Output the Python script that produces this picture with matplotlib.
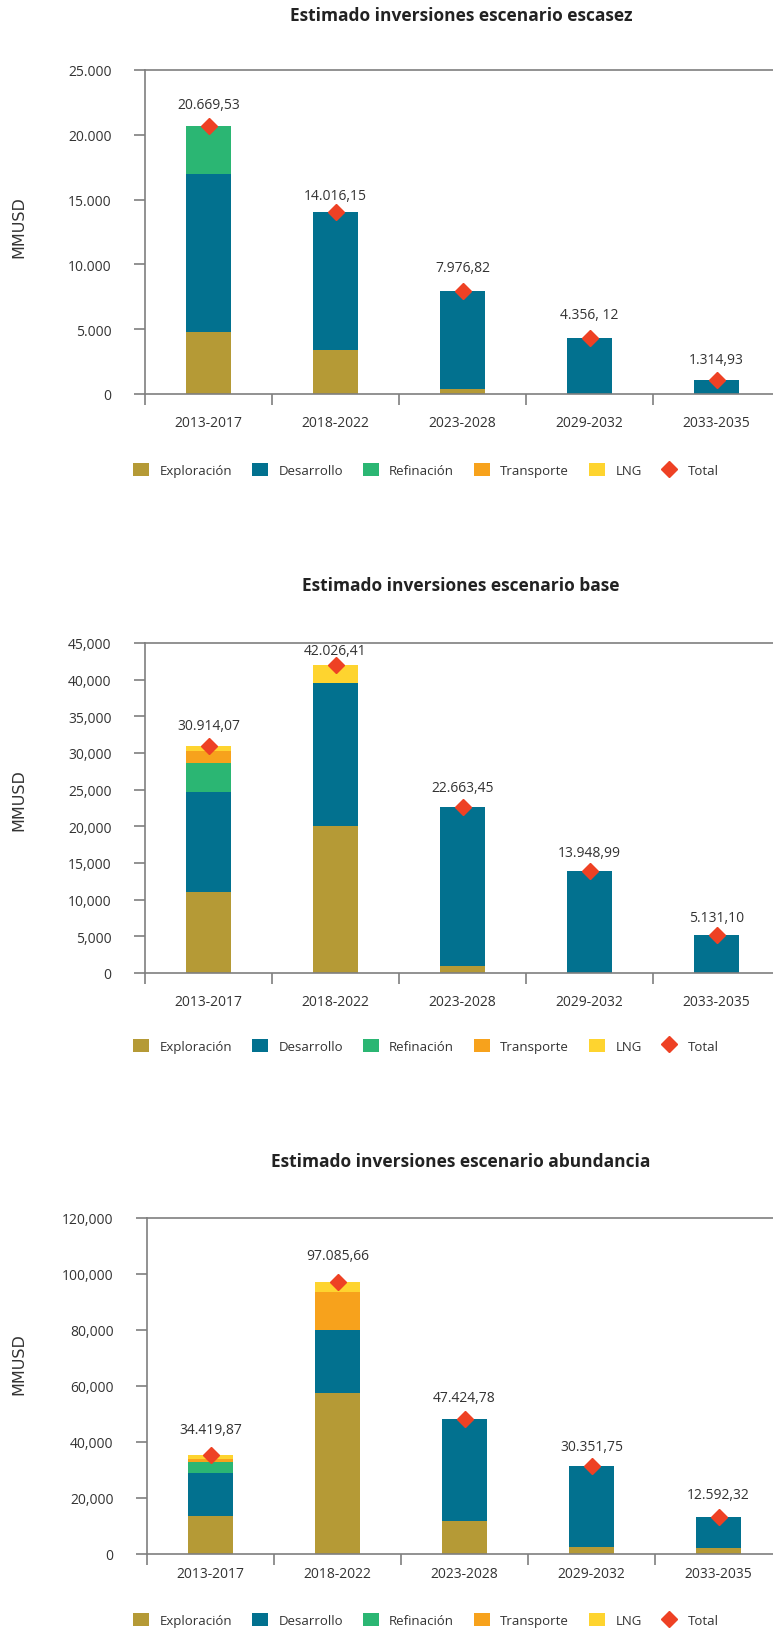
import numpy as np
import matplotlib
matplotlib.use('Agg')
import matplotlib.pyplot as plt
from matplotlib.patches import Patch
from matplotlib.lines import Line2D
from matplotlib.ticker import FuncFormatter, MultipleLocator

plt.rcParams['font.family'] = ['Open Sans', 'DejaVu Sans']

# periodos
categories = ['2013-2017', '2018-2022', '2023-2028', '2029-2032', '2033-2035']

# escenario escasez
escasez_exploracion = [4800, 3400, 400, 0, 0]
escasez_desarrollo = [12175, 10616, 7576, 4356, 1100]
escasez_refinacion = [3695, 0, 0, 0, 0]
escasez_transporte = [0, 0, 0, 0, 0]
escasez_lng = [0, 0, 0, 0, 0]
escasez_labels = ['20.669,53', '14.016,15', '7.976,82', '4.356, 12', '1.314,93']

# escenario base
base_exploracion = [11000, 20000, 1000, 0, 0]
base_desarrollo = [13700, 19600, 21663, 13949, 5131]
base_refinacion = [4000, 0, 0, 0, 0]
base_transporte = [1600, 0, 0, 0, 0]
base_lng = [614, 2426, 0, 0, 0]
base_labels = ['30.914,07', '42.026,41', '22.663,45', '13.948,99', '5.131,10']

# escenario abundancia
abund_exploracion = [13600, 57600, 11800, 2500, 2100]
abund_desarrollo = [15400, 22500, 36400, 28900, 11100]
abund_refinacion = [3900, 0, 0, 0, 0]
abund_transporte = [1100, 13600, 0, 0, 0]
abund_lng = [1500, 3400, 0, 0, 0]
abund_labels = ['34.419,87', '97.085,66', '47.424,78', '30.351,75', '12.592,32']

series_names = ['Exploración', 'Desarrollo', 'Refinación', 'Transporte', 'LNG']
colors = ['#B59A36', '#02718F', '#2BB673', '#F7A21C', '#FED42F']
total_color = '#EE4124'
spine_color = '#7f7f7f'
text_color = '#333333'

W, H = 773, 1631
fig = plt.figure(figsize=(W / 100, H / 100), dpi=100)

# (datos, etiquetas, titulo, ymax, paso, separador, posiciones en px)
charts = [
    ([escasez_exploracion, escasez_desarrollo, escasez_refinacion, escasez_transporte, escasez_lng],
     escasez_labels, 'Estimado inversiones escenario escasez', 25000, 5000, '.',
     dict(left=145, top=71, bottom=395, title_y=16, ylab_y=227, leg_y=471, xpad=15,
          lab_off=[22, 17, 23, 23, 20])),
    ([base_exploracion, base_desarrollo, base_refinacion, base_transporte, base_lng],
     base_labels, 'Estimado inversiones escenario base', 45000, 5000, ',',
     dict(left=145, top=644, bottom=974, title_y=586, ylab_y=800, leg_y=1047, xpad=15,
          lab_off=[21, 14, 19, 18, 18])),
    ([abund_exploracion, abund_desarrollo, abund_refinacion, abund_transporte, abund_lng],
     abund_labels, 'Estimado inversiones escenario abundancia', 120000, 20000, ',',
     dict(left=147, top=1219, bottom=1555, title_y=1162, ylab_y=1364, leg_y=1621, xpad=9,
          lab_off=[25, 27, 22, 20, 23])),
]

x = np.arange(len(categories))
bar_w = 0.35
cat_px = 127  # ancho de cada categoria en px

for stacks, labels, title, ymax, step, sep, pos in charts:
    left = pos['left'] / W
    width = (W - pos['left']) / W
    bottom = 1 - pos['bottom'] / H
    height = (pos['bottom'] - pos['top']) / H
    ax = fig.add_axes([left, bottom, width, height])

    base = np.zeros(len(categories))
    for vals, c in zip(stacks, colors):
        ax.bar(x, vals, bar_w, bottom=base, color=c, zorder=2)
        base = base + np.array(vals)

    # total (rombo rojo) y etiqueta
    ax.plot(x, base, linestyle='none', marker='D', ms=8.5, color=total_color, zorder=3)
    for xi, yi, lab, off in zip(x, base, labels, pos['lab_off']):
        ax.annotate(lab, (xi, yi), xytext=(0, off * 0.72), textcoords='offset points',
                    ha='center', va='center', fontsize=10, color=text_color)

    ax.set_ylim(0, ymax)
    ax.set_xlim(-0.5, -0.5 + (W - pos['left']) / cat_px)
    ax.yaxis.set_major_locator(MultipleLocator(step))
    ax.yaxis.set_major_formatter(FuncFormatter(lambda v, p, s=sep: f'{int(v):,}'.replace(',', s)))

    ax.set_xticks(np.arange(len(categories)) - 0.5)
    ax.set_xticklabels([])
    ax.set_xticks(x, minor=True)
    ax.set_xticklabels(categories, minor=True)
    ax.tick_params(axis='x', which='major', length=8, width=1.2, color=spine_color)
    ax.tick_params(axis='x', which='minor', length=0, pad=pos['xpad'], labelsize=10,
                   labelcolor=text_color)
    ax.tick_params(axis='y', length=8, width=1.2, color=spine_color, pad=16,
                   labelsize=10, labelcolor=text_color)

    for side in ['left', 'top', 'bottom']:
        ax.spines[side].set_color(spine_color)
        ax.spines[side].set_linewidth(1.2)
    ax.spines['right'].set_visible(False)

    fig.text(461 / W, 1 - pos['title_y'] / H, title, ha='center', va='center',
             fontsize=12.5, fontweight='bold', color='#222222')
    fig.text(19 / W, 1 - pos['ylab_y'] / H, 'MMUSD', rotation=90, ha='center', va='center',
             fontsize=11.5, color=text_color, family='DejaVu Sans')

    handles = [Patch(facecolor=c, edgecolor='none') for c in colors]
    handles.append(Line2D([], [], linestyle='none', marker='D', ms=8.5, color=total_color))
    fig.legend(handles, series_names + ['Total'], loc='center',
               bbox_to_anchor=(426 / W, 1 - pos['leg_y'] / H), ncol=6, frameon=False,
               fontsize=9.5, handlelength=1.2, handleheight=1.2, handletextpad=0.8,
               columnspacing=1.5, labelcolor=text_color)

fig.savefig('out.png', dpi=100)
